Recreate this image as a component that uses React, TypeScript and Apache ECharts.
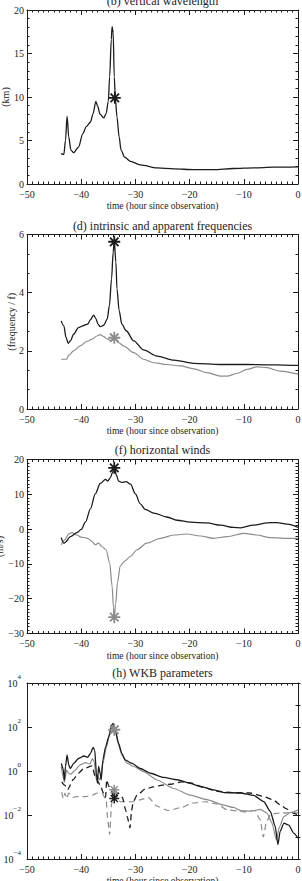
import React, { useEffect, useRef } from "react";
import * as echarts from "echarts";

// ---- shared time axis (hours since observation) ----
const TIME_TICKS = [-50, -40, -30, -20, -10, 0];

// ---- (b) vertical wavelength, km ----
const WAVELENGTH_TICKS = [0, 5, 10, 15, 20];
const wavelengthTime = [-43.7, -43.2, -42.9, -42.6, -42.3, -41.9, -41.4, -40.5, -39.7, -39.05, -38.3, -37.8, -37.3, -37.0, -36.5, -35.85, -35.4, -35.0, -34.75, -34.45, -34.3, -34.1, -33.9, -33.7, -33.4, -33.0, -32.65, -32.0, -30.9, -29.1, -26.0, -22.9, -19.2, -15.6, -11.9, -8.2, -4.5, 0];
const wavelengthKm = [3.5, 3.4, 5.0, 7.8, 5.4, 3.9, 3.6, 4.25, 5.8, 6.6, 7.1, 8.1, 9.5, 9.0, 8.0, 7.6, 8.1, 9.5, 12.3, 16.6, 18.1, 17.4, 12.3, 9.85, 7.7, 5.4, 3.9, 3.1, 2.6, 2.2, 1.85, 1.74, 1.65, 1.66, 1.78, 1.85, 1.93, 1.97];
const wavelengthMark = [-33.8, 9.9];

// ---- (d) intrinsic (black) and apparent (gray) frequencies, units of f ----
const FREQ_TICKS = [0, 2, 4, 6];
const intrinsicTime = [-43.7, -43.2, -42.8, -42.4, -42.0, -41.4, -40.5, -39.7, -38.8, -38.3, -37.7, -37.3, -36.9, -36.5, -35.85, -35.2, -34.8, -34.4, -34.1, -33.9, -33.6, -33.4, -33.0, -32.5, -31.7, -30.3, -28.5, -26.0, -22.9, -19.2, -14.3, -9.4, -5.7, -2.6, 0];
const intrinsicFreq = [3.03, 2.86, 2.46, 2.26, 2.34, 2.57, 2.8, 2.86, 2.92, 3.07, 3.23, 3.11, 2.92, 2.83, 2.88, 3.09, 3.55, 4.47, 5.4, 5.75, 5.05, 4.13, 3.38, 2.92, 2.69, 2.34, 2.03, 1.82, 1.68, 1.57, 1.53, 1.53, 1.52, 1.51, 1.5];
const apparentTime = [-43.7, -42.7, -42.3, -41.4, -40.2, -38.9, -38.0, -37.1, -36.5, -35.85, -35.2, -34.4, -33.9, -33.1, -32.2, -30.3, -28.5, -26.6, -24.2, -21.7, -19.2, -16.8, -14.3, -13.1, -11.3, -9.4, -7.6, -5.7, -3.3, 0];
const apparentFreq = [1.71, 1.71, 1.85, 2.0, 2.17, 2.33, 2.4, 2.51, 2.56, 2.49, 2.4, 2.34, 2.42, 2.28, 2.17, 1.94, 1.71, 1.59, 1.53, 1.48, 1.38, 1.25, 1.13, 1.13, 1.22, 1.36, 1.45, 1.42, 1.3, 1.2];
const intrinsicMark = [-33.9, 5.75];
const apparentMark = [-33.9, 2.45];

// ---- (f) horizontal winds, m/s ----
const WIND_TICKS = [-30, -20, -10, 0, 10, 20];
const windBlackTime = [-43.7, -43.2, -42.9, -42.0, -40.8, -40.0, -39.2, -38.3, -37.4, -36.5, -35.5, -35.1, -34.6, -34.25, -33.9, -33.5, -33.1, -32.5, -31.7, -30.9, -30.0, -29.1, -28.2, -26.6, -24.2, -22.3, -19.9, -16.8, -14.3, -11.9, -10.6, -8.2, -5.7, -3.9, -2.0, 0];
const windBlack = [-2.45, -4.05, -3.77, -2.17, -1.04, -0.1, 2.07, 5.84, 10.1, 13.1, 14.3, 13.8, 14.8, 16.2, 17.6, 15.5, 13.8, 13.4, 13.65, 12.9, 10.1, 7.25, 5.65, 4.61, 3.48, 2.54, 1.98, 1.79, 1.13, 0.47, 0.38, 1.13, 1.79, 1.88, 1.41, 0.47];
const windGrayTime = [-43.7, -43.05, -42.3, -41.7, -40.9, -39.85, -38.8, -38.0, -37.4, -36.8, -36.2, -35.4, -34.75, -34.3, -34.05, -33.9, -33.65, -33.3, -32.8, -32.0, -30.9, -29.7, -27.9, -25.4, -22.9, -20.5, -18.0, -15.6, -13.1, -10.0, -7.6, -5.1, -2.6, 0];
const windGray = [-4.5, -3.1, -1.4, -1.04, -1.7, -2.35, -2.64, -3.58, -4.5, -4.05, -5.0, -5.93, -9.7, -16.3, -22.5, -25.3, -21.5, -15.3, -10.6, -9.2, -7.8, -5.93, -4.05, -2.64, -1.7, -1.41, -1.98, -2.64, -2.17, -1.22, -1.7, -2.45, -2.64, -2.64];
const windBlackMark = [-33.9, 17.6];
const windGrayMark = [-33.9, -25.3];

// ---- (h) WKB parameters (log scale) ----
const WKB_TICKS = [1e-4, 1e-2, 1, 1e2, 1e4];
const wkbSolidBlackTime = [-43.67, -43.35, -43.1, -42.9, -42.6, -42.3, -42.0, -41.4, -40.5, -39.5, -38.8, -38.3, -37.8, -37.5, -37.2, -37.0, -36.8, -36.5, -36.3, -36.0, -35.5, -34.9, -34.4, -34.1, -33.7, -33.1, -32.5, -31.9, -30.6, -29.1, -27.2, -24.8, -22.3, -20.0, -18.0, -15.6, -13.7, -10.6, -8.2, -6.3, -5.1, -4.2, -3.7, -3.3, -2.6, -1.7, -0.8, 0];
const wkbSolidBlack = [2.2, 1.3, 0.39, 1.6, 5.4, 1.9, 1.3, 2.2, 3.7, 4.8, 4.2, 6.3, 11.7, 8.9, 0.79, 0.28, 1.6, 0.79, 0.4, 3.2, 12.6, 36, 120, 145, 72, 17.8, 6.3, 3.2, 2.2, 1.3, 0.79, 0.51, 0.4, 0.28, 0.2, 0.14, 0.105, 0.1, 0.078, 0.04, 0.0145, 0.003, 0.00045, 0.0018, 0.0043, 0.0035, 0.0015, 0.0009];
const wkbSolidGrayTime = [-43.67, -43.35, -43.1, -42.7, -42.3, -41.9, -41.1, -40.2, -39.2, -38.4, -37.9, -37.6, -37.2, -36.95, -36.5, -36.0, -35.4, -34.6, -34.1, -33.7, -33.1, -32.5, -31.5, -30.3, -28.5, -26.0, -22.9, -19.9, -16.8, -13.7, -11.9, -10.6, -8.8, -6.95, -5.7, -4.8, -4.0, -3.4, -2.6, -1.4, 0];
const wkbSolidGray = [1.6, 0.55, 0.3, 1.1, 0.79, 0.72, 1.1, 1.9, 2.4, 2.1, 3.7, 2.6, 0.39, 0.55, 0.39, 2.2, 10.7, 72, 120, 60, 15, 5.4, 2.2, 1.6, 0.93, 0.39, 0.16, 0.08, 0.05, 0.028, 0.022, 0.016, 0.015, 0.018, 0.012, 0.0043, 0.00074, 0.003, 0.0085, 0.013, 0.017];
const wkbDashBlackTime = [-43.6, -43.0, -42.5, -41.5, -40.5, -39.6, -38.0, -37.4, -36.5, -35.9, -35.5, -35.3, -35.0, -34.5, -33.9, -33.2, -32.4, -31.8, -31.5, -31.0, -30.7, -30.4, -29.7, -28.2, -26.7, -25.0, -23.5, -21.5, -19.6, -17.1, -15.0, -12.0, -8.8, -6.5, -4.7, -2.9, -2.3, -1.0, 0];
const wkbDashBlack = [0.32, 0.22, 0.14, 0.4, 0.79, 1.26, 1.7, 0.54, 0.23, 0.1, 0.063, 0.4, 0.23, 0.126, 0.058, 0.1, 0.063, 0.017, 0.0083, 0.0026, 0.016, 0.04, 0.079, 0.15, 0.19, 0.23, 0.25, 0.32, 0.28, 0.17, 0.12, 0.105, 0.1, 0.071, 0.05, 0.025, 0.02, 0.0126, 0.01];
const wkbDashGrayTime = [-43.6, -43.3, -43.0, -42.7, -42.3, -41.5, -40.8, -39.2, -38.0, -37.0, -36.2, -35.4, -35.1, -34.75, -34.4, -33.9, -33.3, -32.8, -30.3, -29.0, -27.6, -26.0, -24.0, -21.5, -19.5, -17.0, -15.0, -13.0, -10.0, -8.0, -7.0, -6.4, -5.8, -5.0, -3.0, 0];
const wkbDashGray = [0.11, 0.056, 0.1, 0.056, 0.1, 0.063, 0.069, 0.069, 0.079, 0.1, 0.1, 0.05, 0.0063, 0.0013, 0.032, 0.14, 0.063, 0.04, 0.04, 0.05, 0.063, 0.025, 0.016, 0.022, 0.035, 0.04, 0.032, 0.017, 0.014, 0.016, 0.0063, 0.001, 0.005, 0.011, 0.0126, 0.0126];
const wkbMarkGrayHigh = [-33.9, 75];
const wkbMarkGrayLow = [-33.9, 0.14];
const wkbMarkBlack = [-33.9, 0.056];

// ---- styling / layout ----
const FONT = "'Liberation Serif', 'Times New Roman', Times, serif";
const INK = "#1c1c1c";
const GRAY = "#8c8c8c";
const PLOT_LEFT = 27;
const PLOT_WIDTH = 271;
const PANELS = [
  { top: 10, height: 174, title: "(b) vertical wavelength", titleY: 1.2 },
  { top: 234.5, height: 174.5, title: "(d) intrinsic and apparent frequencies", titleY: 225.7 },
  { top: 459.5, height: 174, title: "(f) horizontal winds", titleY: 450 },
  { top: 683, height: 176, title: "(h) WKB parameters", titleY: 673.3 },
];

const minus = (v: number | string) => String(v).replace("-", "\u2212");
const pairs = (xs: number[], ys: (number | null)[]) => xs.map((x, i) => [x, ys[i]]);

// eight-armed asterisk (four crossed bars) used for the observation markers
function asteriskSymbol(): string {
  const half = 10;
  const w = 1.5;
  const parts: string[] = [];
  for (let k = 0; k < 4; k++) {
    const a = (k * Math.PI) / 4;
    const dx = Math.cos(a);
    const dy = Math.sin(a);
    const px = -dy;
    const py = dx;
    const corners = [
      [half * dx + w * px, half * dy + w * py],
      [-half * dx + w * px, -half * dy + w * py],
      [-half * dx - w * px, -half * dy - w * py],
      [half * dx - w * px, half * dy - w * py],
    ].map(([x, y]) => `${(10 + x).toFixed(3)} ${(10 + y).toFixed(3)}`);
    parts.push("M" + corners.join(" L") + " Z");
  }
  return "path://" + parts.join(" ");
}
const STAR = asteriskSymbol();

const line = { color: INK, width: 1 };
const labelText = { fontFamily: FONT, fontSize: 10, lineHeight: 10, color: INK };

function timeAxes(grid: number) {
  const base = {
    type: "value",
    gridIndex: grid,
    min: TIME_TICKS[0],
    max: TIME_TICKS[TIME_TICKS.length - 1],
    interval: TIME_TICKS[1] - TIME_TICKS[0],
    axisLine: { show: true, onZero: false, lineStyle: line },
    axisTick: { show: true, inside: true, length: 5, lineStyle: line },
    minorTick: { show: true, splitNumber: 10, length: 2.5, lineStyle: line },
    splitLine: { show: false },
    minorSplitLine: { show: false },
  };
  return [
    {
      ...base,
      position: "bottom",
      axisLabel: { ...labelText, margin: 5, formatter: (v: number) => minus(v) },
      name: "time (hour since observation)",
      nameLocation: "middle",
      nameGap: 17,
      nameMoveOverlap: false,
      nameTextStyle: { fontFamily: FONT, fontSize: 9.5, color: INK },
    },
    { ...base, position: "top", axisLabel: { show: false } },
  ];
}

function valueAxes(grid: number, ticks: number[], minorSplit: number, name: string, nameGap: number) {
  const base = {
    type: "value",
    gridIndex: grid,
    min: ticks[0],
    max: ticks[ticks.length - 1],
    interval: ticks[1] - ticks[0],
    axisLine: { show: true, onZero: false, lineStyle: line },
    axisTick: { show: true, inside: true, length: 5, lineStyle: line },
    minorTick: { show: true, splitNumber: minorSplit, length: 2.5, lineStyle: line },
    splitLine: { show: false },
    minorSplitLine: { show: false },
  };
  return [
    {
      ...base,
      position: "left",
      axisLabel: { ...labelText, margin: 3, formatter: (v: number) => minus(v) },
      name,
      nameLocation: "middle",
      nameRotate: 90,
      nameGap,
      nameMoveOverlap: false,
      nameTextStyle: { fontFamily: FONT, fontSize: 10, color: INK },
    },
    { ...base, position: "right", axisLabel: { show: false } },
  ];
}

function logAxes(grid: number) {
  const base = {
    type: "log",
    logBase: 100,
    gridIndex: grid,
    min: WKB_TICKS[0],
    max: WKB_TICKS[WKB_TICKS.length - 1],
    axisLine: { show: true, onZero: false, lineStyle: line },
    axisTick: { show: true, inside: true, length: 5, lineStyle: line },
    minorTick: { show: false },
    splitLine: { show: false },
  };
  const decade = {
    type: "value",
    gridIndex: grid,
    min: Math.round(Math.log10(WKB_TICKS[0])),
    max: Math.round(Math.log10(WKB_TICKS[WKB_TICKS.length - 1])),
    interval: 1,
    axisLine: { show: false },
    axisTick: { show: true, inside: true, length: 2.5, lineStyle: line },
    axisLabel: { show: false },
    splitLine: { show: false },
  };
  return [
    {
      ...base,
      position: "left",
      axisLabel: {
        margin: 6,
        formatter: (v: number) => `{b|10}{s|${minus(Math.round(Math.log10(v)))}}`,
        rich: {
          b: { fontFamily: FONT, fontSize: 10, color: INK, lineHeight: 20, verticalAlign: "middle" },
          s: { fontFamily: FONT, fontSize: 7, color: INK, lineHeight: 7, verticalAlign: "top" },
        },
      },
    },
    { ...base, position: "right", axisLabel: { show: false } },
    { ...decade, position: "left" },
    { ...decade, position: "right" },
  ];
}

function curve(grid: number, yIndex: number, data: any[], color: string, dashed = false, smooth = 0.3) {
  return {
    type: "line",
    xAxisIndex: grid * 2,
    yAxisIndex: yIndex,
    data,
    symbol: "none",
    smooth,
    smoothMonotone: "x",
    connectNulls: false,
    lineStyle: { color, width: color === INK ? 1.3 : 1.2, type: dashed ? [6, 4] : "solid" },
    silent: true,
    z: 2,
  };
}

function mark(grid: number, yIndex: number, point: number[], color: string, size = 12) {
  return {
    type: "scatter",
    xAxisIndex: grid * 2,
    yAxisIndex: yIndex,
    data: [point],
    symbol: STAR,
    symbolSize: size,
    itemStyle: { color, opacity: 1 },
    silent: true,
    z: 5,
  };
}

export default function App() {
  const ref = useRef<HTMLDivElement>(null);

  useEffect(() => {
    if (!ref.current) return;
    const chart = echarts.init(ref.current, undefined, { renderer: "svg" });

    const option: any = {
      animation: false,
      backgroundColor: "#ffffff",
      textStyle: { fontFamily: FONT },
      grid: PANELS.map((p) => ({
        left: PLOT_LEFT,
        top: p.top,
        width: PLOT_WIDTH,
        height: p.height,
        containLabel: false,
        outerBoundsMode: "none",
      })),
      xAxis: [...timeAxes(0), ...timeAxes(1), ...timeAxes(2), ...timeAxes(3)],
      yAxis: [
        ...valueAxes(0, WAVELENGTH_TICKS, 5, "(km)", 17),
        ...valueAxes(1, FREQ_TICKS, 3, "(frequency / f)", 11),
        ...valueAxes(2, WIND_TICKS, 10, "(m/s)", 23),
        ...logAxes(3),
      ],
      graphic: PANELS.map((p) => ({
        type: "text",
        x: PLOT_LEFT + PLOT_WIDTH / 2,
        y: p.titleY,
        silent: true,
        style: {
          text: p.title,
          fill: INK,
          font: `12px ${FONT}`,
          align: "center",
          verticalAlign: "middle",
        },
      })),
      series: [
        curve(0, 0, pairs(wavelengthTime, wavelengthKm), INK),
        mark(0, 0, wavelengthMark, INK),

        curve(1, 2, pairs(apparentTime, apparentFreq), GRAY),
        curve(1, 2, pairs(intrinsicTime, intrinsicFreq), INK),
        mark(1, 2, intrinsicMark, INK),
        mark(1, 2, apparentMark, GRAY),

        curve(2, 4, pairs(windGrayTime, windGray), GRAY),
        curve(2, 4, pairs(windBlackTime, windBlack), INK),
        mark(2, 4, windBlackMark, INK),
        mark(2, 4, windGrayMark, GRAY),

        curve(3, 6, pairs(wkbDashGrayTime, wkbDashGray), GRAY, true, 0.2),
        curve(3, 6, pairs(wkbDashBlackTime, wkbDashBlack), INK, true, 0.2),
        curve(3, 6, pairs(wkbSolidGrayTime, wkbSolidGray), GRAY, false, 0.2),
        curve(3, 6, pairs(wkbSolidBlackTime, wkbSolidBlack), INK, false, 0.2),
        mark(3, 6, wkbMarkGrayHigh, GRAY),
        mark(3, 6, wkbMarkGrayLow, GRAY, 10),
        mark(3, 6, wkbMarkBlack, INK, 10),
      ],
    };

    chart.setOption(option);
    return () => chart.dispose();
  }, []);

  return (
    <div
      ref={ref}
      style={{ position: "absolute", left: 0, top: 0, width: 302, height: 881, background: "#fff" }}
    />
  );
}
